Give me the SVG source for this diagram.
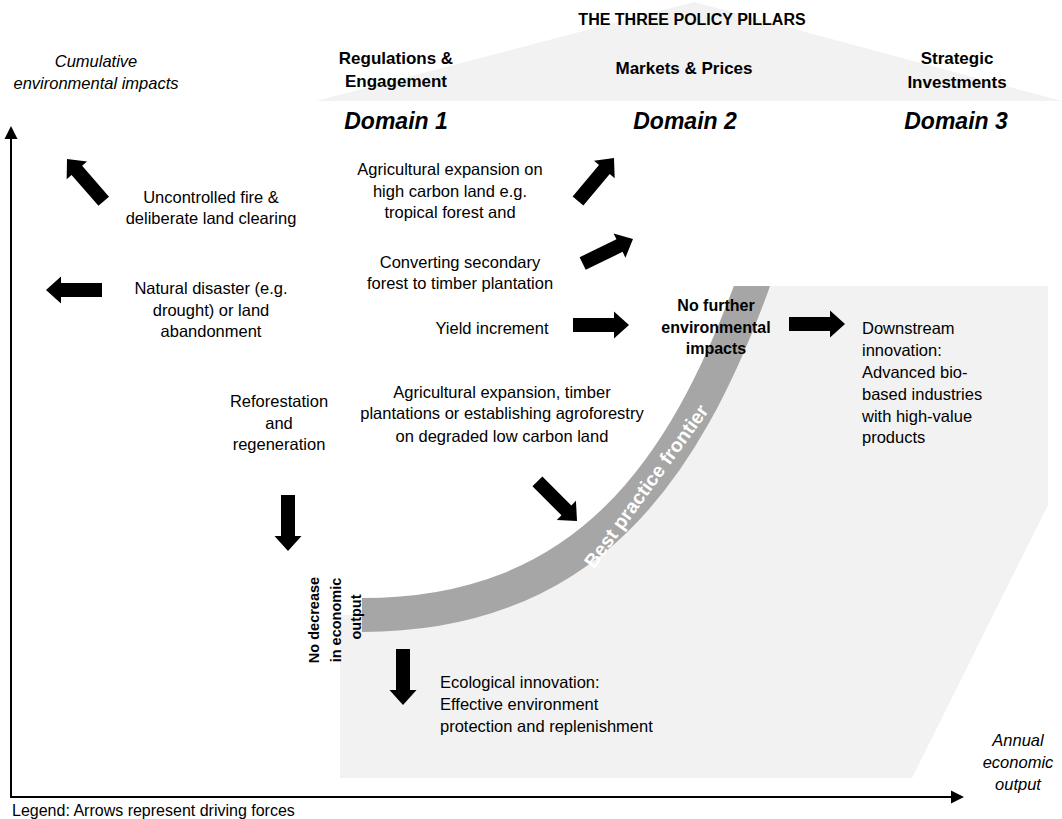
<svg xmlns="http://www.w3.org/2000/svg" xmlns:xlink="http://www.w3.org/1999/xlink" width="1062" height="819" viewBox="0 0 1062 819">
<style>
text{font-family:"Liberation Sans",Arial,sans-serif;fill:#000}
.t{font-size:16.5px}
.c{text-anchor:middle}
.b{font-weight:bold}
.i{font-style:italic}
.dom{font-size:23px;font-weight:bold;font-style:italic;text-anchor:middle}
.pil{font-size:17px;font-weight:bold;text-anchor:middle}
.ax{stroke:#000;stroke-width:2;fill:none}
</style>
<defs>
<path id="blk" d="M -56 -7 L -15 -7 L -15 -13.5 L 0 0 L -15 13.5 L -15 7 L -56 7 Z" fill="#000"/>
<clipPath id="clipTop"><rect x="0" y="286" width="1062" height="533"/></clipPath>
</defs>
<rect width="1062" height="819" fill="#fff"/>

<g id="roof">
<polygon points="316,101 694,2 1062,101" fill="#f2f2f2"/>
<text x="692" y="25" class="b c" style="font-size:16px">THE THREE POLICY PILLARS</text>
<text x="396" y="64" class="pil">Regulations &amp;</text>
<text x="396" y="87" class="pil">Engagement</text>
<text x="684" y="74" class="pil">Markets &amp; Prices</text>
<text x="957" y="64" class="pil">Strategic</text>
<text x="957" y="88" class="pil">Investments</text>
</g>

<g id="domains">
<text x="396" y="129" class="dom">Domain 1</text>
<text x="685" y="129" class="dom">Domain 2</text>
<text x="956" y="129" class="dom">Domain 3</text>
</g>

<g id="frontier-region">
<path d="M 340 778 L 340 615 L 362 615 C 587 615 684 470 752 286 L 1048 286 L 1048 505 L 912 778 Z" fill="#f2f2f2"/>
<path d="M 362 615 C 587 615 684 470 752 286 L 756 274" fill="none" stroke="#a6a6a6" stroke-width="34" clip-path="url(#clipTop)"/>
<text transform="translate(646,486) rotate(-54)" x="0" y="7" class="b c" style="font-size:19.5px;fill:#fff">Best practice frontier</text>
</g>

<g id="axis-y-label">
<text x="96" y="67" class="t c i">Cumulative</text>
<text x="96" y="89" class="t c i">environmental impacts</text>
</g>

<g id="node-fire">
<text x="211" y="203" class="t c">Uncontrolled fire &amp;</text>
<text x="211" y="224" class="t c">deliberate land clearing</text>
</g>

<g id="node-disaster">
<text x="211" y="294" class="t c">Natural disaster (e.g.</text>
<text x="211" y="316" class="t c">drought) or land</text>
<text x="211" y="337" class="t c">abandonment</text>
</g>

<g id="node-high-carbon">
<text x="450" y="175" class="t c">Agricultural expansion on</text>
<text x="450" y="197" class="t c">high carbon land e.g.</text>
<text x="450" y="218" class="t c">tropical forest and</text>
</g>

<g id="node-secondary">
<text x="460" y="268" class="t c">Converting secondary</text>
<text x="460" y="289" class="t c">forest to timber plantation</text>
</g>

<g id="node-yield">
<text x="492" y="334" class="t c">Yield increment</text>
</g>

<g id="node-no-further">
<text x="716" y="311" class="t c b" style="font-size:16px">No further</text>
<text x="716" y="333" class="t c b" style="font-size:16px">environmental</text>
<text x="716" y="354" class="t c b" style="font-size:16px">impacts</text>
</g>

<g id="node-downstream">
<text x="862" y="334" class="t">Downstream</text>
<text x="862" y="356" class="t">innovation:</text>
<text x="862" y="378" class="t">Advanced bio-</text>
<text x="862" y="400" class="t">based industries</text>
<text x="862" y="422" class="t">with high-value</text>
<text x="862" y="443" class="t">products</text>
</g>

<g id="node-low-carbon">
<text x="502" y="398" class="t c">Agricultural expansion, timber</text>
<text x="502" y="419" class="t c">plantations or establishing agroforestry</text>
<text x="502" y="442" class="t c">on degraded low carbon land</text>
</g>

<g id="node-reforestation">
<text x="279" y="407" class="t c">Reforestation</text>
<text x="279" y="429" class="t c">and</text>
<text x="279" y="450" class="t c">regeneration</text>
</g>

<g id="node-no-decrease">
<text transform="translate(319,620) rotate(-90)" class="b c" style="font-size:14.5px">No decrease</text>
<text transform="translate(341,620) rotate(-90)" class="b c" style="font-size:14.5px">in economic</text>
<text transform="translate(361,617) rotate(-90)" class="b c" style="font-size:14.5px">output</text>
</g>

<g id="node-ecological">
<text x="440" y="688" class="t">Ecological innovation:</text>
<text x="440" y="710" class="t">Effective environment</text>
<text x="440" y="732" class="t">protection and replenishment</text>
</g>

<g id="axis-x-label">
<text x="1018" y="746" class="t c i">Annual</text>
<text x="1018" y="768" class="t c i">economic</text>
<text x="1018" y="790" class="t c i">output</text>
</g>

<g id="legend">
<text x="12" y="816" class="t" style="font-size:16px">Legend: Arrows represent driving forces</text>
</g>

<g id="connectors">
<line x1="11" y1="797" x2="11" y2="138" class="ax"/>
<polygon points="11,126 4.5,139 17.5,139" fill="#000"/>
<line x1="10" y1="797" x2="951" y2="797" class="ax"/>
<polygon points="964,797 951,790.5 951,803.5" fill="#000"/>
<use xlink:href="#blk" transform="translate(67,159) rotate(-131)"/>
<use xlink:href="#blk" transform="translate(46,290) rotate(180)"/>
<use xlink:href="#blk" transform="translate(614,158) rotate(-50)"/>
<use xlink:href="#blk" transform="translate(633,239) rotate(-26)"/>
<use xlink:href="#blk" transform="translate(629,325)"/>
<use xlink:href="#blk" transform="translate(845,324)"/>
<use xlink:href="#blk" transform="translate(577,521) rotate(45)"/>
<use xlink:href="#blk" transform="translate(288,551) rotate(90)"/>
<use xlink:href="#blk" transform="translate(403,705) rotate(90)"/>
</g>
</svg>
